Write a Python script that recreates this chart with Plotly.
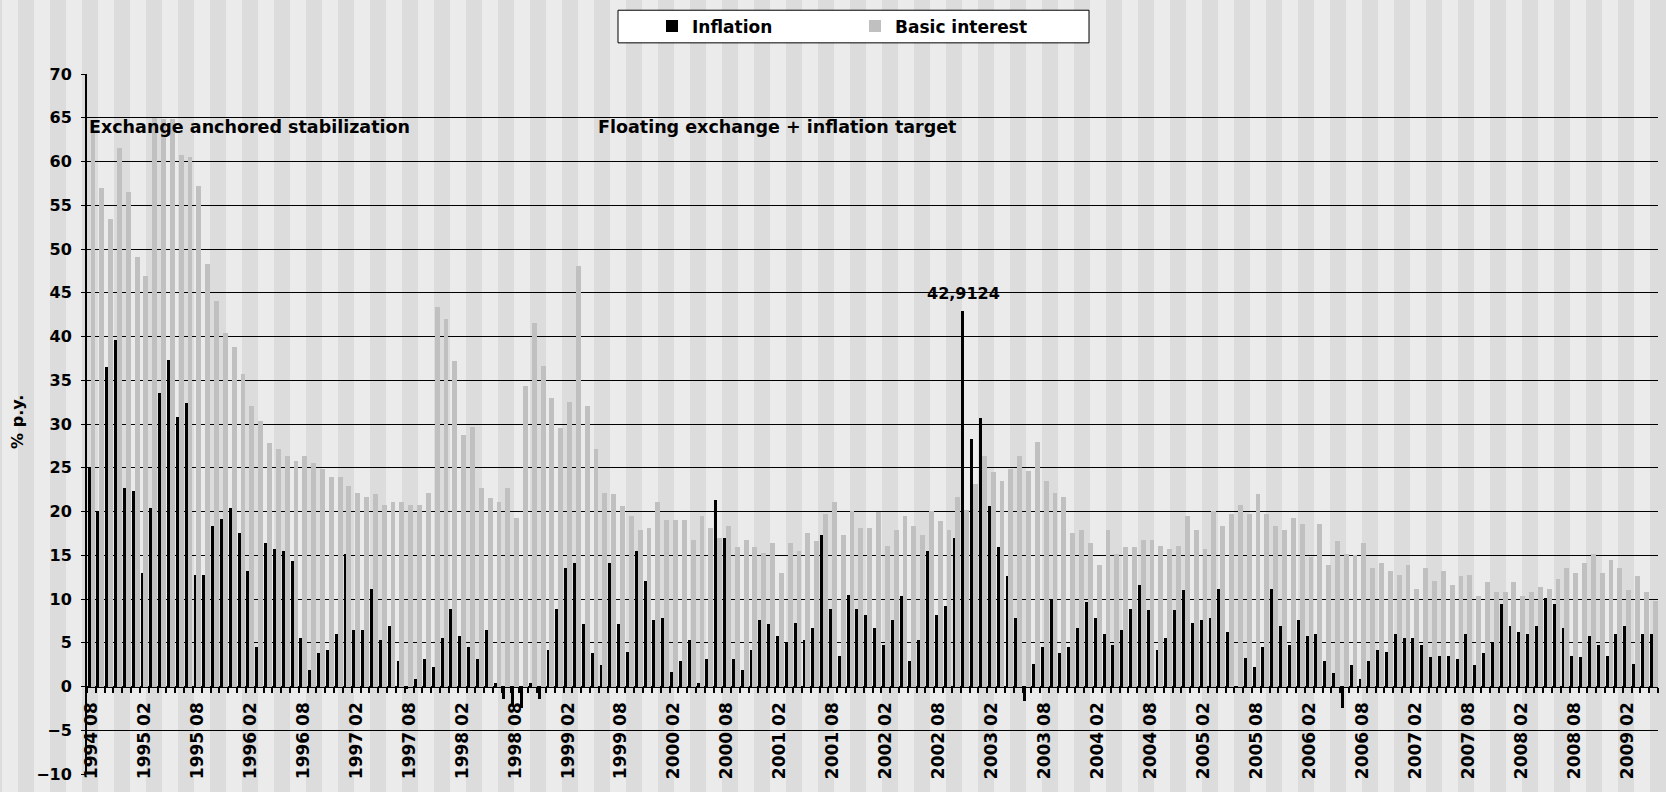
import plotly.graph_objects as go
import pandas as pd

# ---------------- data ----------------
months = [p.strftime("%Y %m") for p in pd.period_range("1994-08", "2009-05", freq="M")]

inflation = [
    25.0, 20.1, 36.5, 39.6, 22.7, 22.4, 13.0, 20.4, 33.5, 37.3, 30.8, 32.4,   # 94-08 .. 95-07
    12.8, 12.8, 18.3, 19.2, 20.4, 17.5, 13.2, 4.5, 16.4, 15.7, 15.5, 14.4,    # 95-08 .. 96-07
    5.6, 1.9, 3.8, 4.2, 6.0, 15.2, 6.5, 6.5, 11.2, 5.3, 6.9, 2.9,             # 96-08 .. 97-07
    -0.3, 0.9, 3.1, 2.2, 5.6, 8.9, 5.8, 4.5, 3.1, 6.5, 0.4, -1.4,             # 97-08 .. 98-07
    -2.2, -2.4, 0.4, -1.4, 4.2, 8.9, 13.5, 14.1, 7.2, 3.8, 2.5, 14.1,         # 98-08 .. 99-07
    7.2, 4.0, 15.5, 12.1, 7.6, 7.8, 1.7, 2.9, 5.3, 0.4, 3.1, 21.3,            # 99-08 .. 00-07
    17.0, 3.1, 1.9, 4.2, 7.6, 7.2, 5.8, 5.0, 7.3, 5.3, 6.7, 17.3,             # 00-08 .. 01-07
    8.9, 3.5, 10.5, 8.9, 8.2, 6.7, 4.7, 7.6, 10.3, 2.9, 5.3, 15.5,            # 01-08 .. 02-07
    8.2, 9.2, 17.0, 42.9124, 28.3, 30.7, 20.6, 15.9, 12.6, 7.8, -1.7, 2.6,    # 02-08 .. 03-07
    4.5, 10.0, 3.8, 4.5, 6.7, 9.7, 7.8, 6.0, 4.7, 6.5, 8.9, 11.6,             # 03-08 .. 04-07
    8.7, 4.2, 5.6, 8.7, 11.0, 7.3, 7.6, 7.8, 11.2, 6.2, -0.2, 3.3,            # 04-08 .. 05-07
    2.2, 4.5, 11.1, 6.9, 4.7, 7.6, 5.8, 6.0, 2.9, 1.5, -2.4, 2.5,             # 05-08 .. 06-07
    0.9, 2.9, 4.2, 4.0, 6.0, 5.6, 5.6, 4.7, 3.4, 3.5, 3.5, 3.1,               # 06-08 .. 07-07
    6.0, 2.5, 3.8, 5.0, 9.4, 6.9, 6.2, 6.0, 6.9, 10.1, 9.4, 6.7,              # 07-08 .. 08-07
    3.5, 3.4, 5.8, 4.7, 3.5, 6.0, 6.9, 2.6, 6.0, 6.0,                         # 08-08 .. 09-05
]

basic_interest = [
    63.5, 57.0, 53.4, 61.5, 56.5, 49.1, 46.9, 65.0, 64.9, 64.9, 60.8, 60.5,
    57.2, 48.3, 44.1, 40.4, 38.8, 35.7, 32.1, 30.3, 27.8, 27.1, 26.4, 25.8,
    26.4, 25.5, 24.9, 24.0, 24.0, 22.9, 22.1, 21.7, 22.0, 20.8, 21.1, 21.1,
    20.8, 20.8, 22.1, 43.4, 42.0, 37.2, 28.7, 29.7, 22.7, 21.5, 21.1, 22.7,
    19.3, 34.3, 41.5, 36.6, 33.0, 29.6, 32.5, 48.1, 32.1, 27.1, 22.1, 22.0,
    20.6, 19.5, 17.9, 18.1, 21.1, 19.0, 19.0, 19.0, 16.8, 19.5, 18.1, 17.0,
    18.3, 15.9, 16.8, 15.9, 15.3, 16.4, 13.0, 16.4, 15.5, 17.5, 16.6, 19.7,
    21.1, 17.3, 20.1, 18.1, 18.1, 20.0, 16.1, 17.9, 19.5, 18.4, 17.3, 20.1,
    18.9, 17.9, 21.7, 20.2, 23.1, 26.4, 24.5, 23.5, 24.9, 26.4, 24.6, 28.0,
    23.5, 22.1, 21.7, 17.5, 17.9, 16.4, 13.9, 17.9, 15.2, 15.9, 15.9, 16.8,
    16.8, 16.1, 15.7, 16.1, 19.5, 17.9, 15.7, 20.1, 18.4, 19.7, 20.8, 19.7,
    22.0, 19.7, 18.4, 17.9, 19.3, 18.6, 14.8, 18.6, 13.9, 16.6, 15.2, 15.0,
    16.4, 13.6, 14.1, 13.2, 12.8, 13.9, 11.2, 13.5, 12.1, 13.2, 11.6, 12.6,
    12.8, 10.3, 11.9, 10.8, 10.8, 11.9, 10.3, 10.8, 11.4, 11.2, 12.3, 13.6,
    13.0, 14.1, 15.2, 13.0, 14.5, 13.5, 11.0, 12.6, 10.8, 9.8,
]

tick_labels = [
    "1994 08", "1995 02", "1995 08", "1996 02", "1996 08", "1997 02", "1997 08",
    "1998 02", "1998 08", "1999 02", "1999 08", "2000 02", "2000 08", "2001 02",
    "2001 08", "2002 02", "2002 08", "2003 02", "2003 08", "2004 02", "2004 08",
    "2005 02", "2005 08", "2006 02", "2006 08", "2007 02", "2007 08", "2008 02",
    "2008 08", "2009 02",
]

period_labels = ["Exchange anchored stabilization", "Floating exchange + inflation target"]
peak_label = "42,9124"
y_title = "% p.y."

# ---------------- figure ----------------
W, H = 1666, 792
ML, MR, MT, MB = 87, 8, 73, 11
PW = W - ML - MR
PH = H - MT - MB

FONT = "DejaVu Sans"
x = list(range(len(months)))
tickvals = [months.index(t) for t in tick_labels]


def px_x(px):
    return (px - ML) / PW


def px_y(py):
    return (H - MB - py) / PH


fig = go.Figure()
fig.add_bar(x=x, y=basic_interest, name="Basic interest",
            marker=dict(color="#c0c0c0", line=dict(width=0)),
            width=0.55, offset=-0.1, legendrank=2, hoverinfo="skip")
fig.add_bar(x=x, y=inflation, name="Inflation",
            marker=dict(color="#000000", line=dict(width=0)),
            width=0.33, offset=-0.43, legendrank=1, hoverinfo="skip")

# background vertical stripes (decoration)
shapes = []
stripe = 16
n = -1
while True:
    px0 = 18 + 2 * stripe * n
    if px0 > W:
        break
    shapes.append(dict(type="rect", xref="paper", yref="paper",
                       x0=px_x(px0), x1=px_x(px0 + stripe),
                       y0=-0.1, y1=1.2, fillcolor="#dcdcdc",
                       line=dict(width=0), layer="below"))
    n += 1

# legend frame
shapes.append(dict(type="rect", xref="paper", yref="paper",
                   x0=px_x(618), x1=px_x(1089), y0=px_y(41.5), y1=px_y(8.5),
                   fillcolor="white", line=dict(color="black", width=1), layer="above"))

peak_idx = inflation.index(max(inflation))

annotations = [
    dict(x=-0.5, y=64, xref="x", yref="y", text=period_labels[0], showarrow=False,
         xanchor="left", yanchor="middle",
         font=dict(family=FONT, size=17.5, color="black", weight="bold")),
    dict(x=57.2, y=64, xref="x", yref="y", text=period_labels[1], showarrow=False,
         xanchor="left", yanchor="middle",
         font=dict(family=FONT, size=17.5, color="black", weight="bold")),
    dict(x=peak_idx, y=inflation[peak_idx], xref="x", yref="y", text=peak_label,
         showarrow=False, xanchor="center", yanchor="bottom", yshift=6, xshift=-2,
         font=dict(family=FONT, size=16, color="black", weight="bold")),
    dict(x=px_x(18), y=0.503, xref="paper", yref="paper", text=y_title,
         showarrow=False, textangle=-90, xanchor="center", yanchor="middle",
         font=dict(family=FONT, size=16, color="black", weight="bold")),
]

fig.update_layout(
    width=W, height=H,
    margin=dict(l=ML, r=MR, t=MT, b=MB, pad=0),
    paper_bgcolor="#ebebeb",
    plot_bgcolor="rgba(0,0,0,0)",
    barmode="overlay",
    bargap=0,
    shapes=shapes,
    annotations=annotations,
    showlegend=True,
    legend=dict(orientation="h", x=px_x(652), xanchor="left",
                y=px_y(25), yanchor="middle",
                bgcolor="rgba(0,0,0,0)", borderwidth=0,
                font=dict(family=FONT, size=17, color="black", weight="bold"),
                entrywidth=158, entrywidthmode="pixels", itemwidth=30,
                traceorder="normal"),
    xaxis=dict(type="linear", range=[-0.5, len(months) - 0.5],
               anchor="free", position=10 / 80,
               showline=True, linecolor="black", linewidth=1,
               showgrid=False, zeroline=False,
               tickmode="array", tickvals=tickvals, ticktext=tick_labels,
               tickangle=-90, ticks="", ticklabelstandoff=8,
               tickfont=dict(family=FONT, size=17, color="black", weight="bold"),
               minor=dict(tickmode="array",
                          tickvals=[i - 0.5 for i in range(len(months) + 1)],
                          ticks="outside", ticklen=5, tickwidth=2,
                          tickcolor="black", showgrid=False)),
    yaxis=dict(range=[-10, 70], tick0=0, dtick=5,
               showgrid=True, gridcolor="black", gridwidth=1,
               showline=True, linecolor="black", linewidth=2,
               zeroline=False, ticks="outside", ticklen=4, tickcolor="black",
               ticklabelstandoff=6,
               tickfont=dict(family=FONT, size=16, color="black", weight="bold")),
)

fig.write_html("out.html",
               config={"displayModeBar": False},
               post_script="document.body.style.margin='0';document.body.style.overflow='hidden';")
